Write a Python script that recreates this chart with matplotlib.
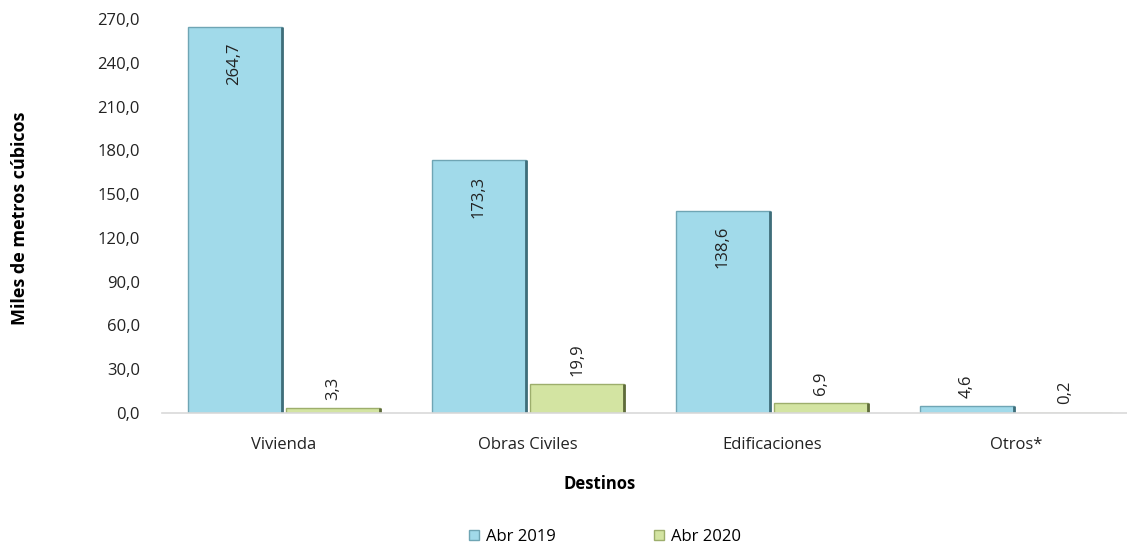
import numpy as np
import matplotlib.pyplot as plt

categories = ['Vivienda', 'Obras Civiles', 'Edificaciones', 'Otros*']
abr_2019 = [264.7, 173.3, 138.6, 4.6]
abr_2020 = [3.3, 19.9, 6.9, 0.2]
series_names = ['Abr 2019', 'Abr 2020']
y_ticks = np.arange(0, 271, 30)

plt.rcParams['font.family'] = ['Open Sans', 'DejaVu Sans']

W, H = 1127, 546
fig = plt.figure(figsize=(W / 100, H / 100), dpi=100)
ax = fig.add_axes([162 / W, 133 / H, (W - 162) / W, 394 / H])

x = np.arange(len(categories))
bw = 0.385
gap = 0.02
blue, blue_edge, blue_dark = '#A1DAEA', '#6FA5B4', '#3F6E7A'
green, green_edge, green_dark = '#D3E4A2', '#9DAE6C', '#5E6B3A'

b1 = ax.bar(x - bw / 2 - gap / 2, abr_2019, bw, color=blue, edgecolor=blue_edge,
            linewidth=1.0, label=series_names[0])
b2 = ax.bar(x + bw / 2 + gap / 2, abr_2020, bw, color=green, edgecolor=green_edge,
            linewidth=1.0, label=series_names[1])

# darker right side, like the bevelled bars of the original
for bars, dark in ((b1, blue_dark), (b2, green_dark)):
    for rect in bars:
        xr = rect.get_x() + rect.get_width()
        ax.vlines(xr, 0, rect.get_height(), colors=dark, linewidth=2.0)


def fmt(v):
    return f'{v:.1f}'.replace('.', ',')


for bars in (b1, b2):
    for rect in bars:
        h = rect.get_height()
        cx = rect.get_x() + rect.get_width() / 2
        if h > 60:
            ax.annotate(fmt(h), (cx, h), xytext=(0, -11), textcoords='offset points',
                        rotation=90, ha='center', va='top', fontsize=12, color='#222222')
        else:
            ax.annotate(fmt(h), (cx, h), xytext=(0, 6), textcoords='offset points',
                        rotation=90, ha='center', va='bottom', fontsize=12, color='#222222')

ax.set_xlim(-0.5, -0.5 + (W - 162) / 244)
ax.set_ylim(0, 270)
ax.set_yticks(y_ticks)
ax.set_yticklabels([fmt(v) for v in y_ticks], fontsize=12)
ax.set_xticks(x)
ax.set_xticklabels(categories, fontsize=12)
ax.tick_params(axis='both', length=0, colors='#222222')
ax.tick_params(axis='y', pad=16)
ax.tick_params(axis='x', pad=17)
for s in ('top', 'right', 'left'):
    ax.spines[s].set_visible(False)
ax.spines['bottom'].set_color('#D9D9D9')
ax.spines['bottom'].set_linewidth(1.2)

fig.text(600 / W, 1 - 484 / H, 'Destinos', ha='center', va='center',
         fontsize=12, fontweight='bold')
fig.text(20 / W, 1 - 218 / H, 'Miles de metros cúbicos', ha='center', va='center',
         rotation=90, fontsize=13, fontweight='bold')

fig.legend(handles=[b1, b2], labels=series_names, loc='center',
           bbox_to_anchor=(605 / W, 1 - 537 / H), ncol=2, frameon=False,
           fontsize=12, handlelength=0.6, handleheight=0.6, handletextpad=0.4,
           columnspacing=5.9)

fig.savefig('out.png', dpi=100)
